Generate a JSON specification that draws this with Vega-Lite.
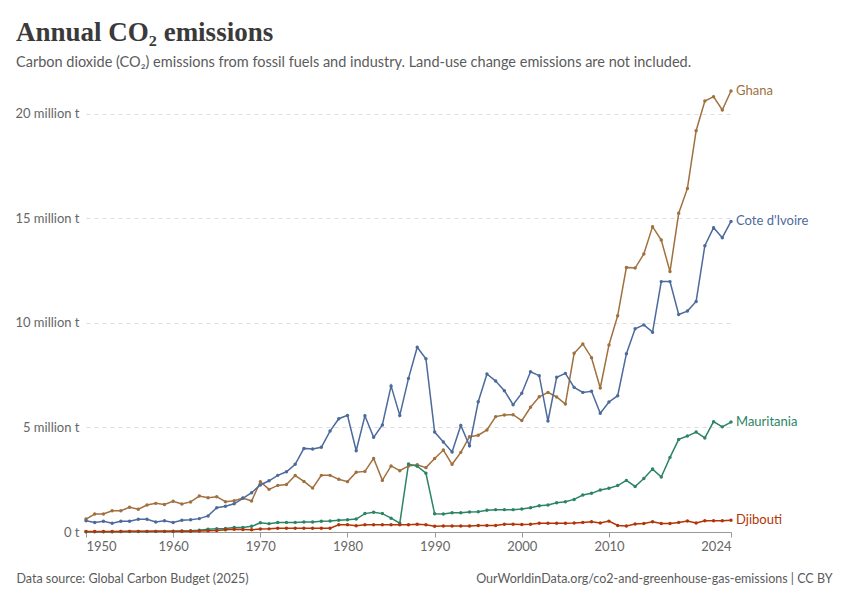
{
  "$schema": "https://vega.github.io/schema/vega-lite/v6.json",
  "autosize": "none",
  "width": 645,
  "height": 441,
  "padding": {"left": 86, "top": 91, "right": 119, "bottom": 68},
  "background": "white",
  "title": {
    "text": "Annual CO₂ emissions",
    "subtitle": "Carbon dioxide (CO₂) emissions from fossil fuels and industry. Land-use change emissions are not included.",
    "anchor": "start",
    "frame": "group",
    "dx": -70,
    "offset": 15,
    "font": "Liberation Serif",
    "fontSize": 27,
    "fontWeight": "bold",
    "color": "#3a3a3a",
    "subtitleFont": "Lato",
    "subtitleFontSize": 14.5,
    "subtitleColor": "#5b5b5b",
    "subtitlePadding": 9
  },
  "data": {
    "values": [
      {"country": "Ghana", "year": 1950, "value": 0.62}, {"country": "Ghana", "year": 1951, "value": 0.86}, {"country": "Ghana", "year": 1952, "value": 0.86}, {"country": "Ghana", "year": 1953, "value": 1.02}, {"country": "Ghana", "year": 1954, "value": 1.02},
      {"country": "Ghana", "year": 1955, "value": 1.18}, {"country": "Ghana", "year": 1956, "value": 1.09}, {"country": "Ghana", "year": 1957, "value": 1.29}, {"country": "Ghana", "year": 1958, "value": 1.37}, {"country": "Ghana", "year": 1959, "value": 1.32},
      {"country": "Ghana", "year": 1960, "value": 1.47}, {"country": "Ghana", "year": 1961, "value": 1.34}, {"country": "Ghana", "year": 1962, "value": 1.44}, {"country": "Ghana", "year": 1963, "value": 1.72}, {"country": "Ghana", "year": 1964, "value": 1.64},
      {"country": "Ghana", "year": 1965, "value": 1.69}, {"country": "Ghana", "year": 1966, "value": 1.45}, {"country": "Ghana", "year": 1967, "value": 1.50}, {"country": "Ghana", "year": 1968, "value": 1.63}, {"country": "Ghana", "year": 1969, "value": 1.48},
      {"country": "Ghana", "year": 1970, "value": 2.41}, {"country": "Ghana", "year": 1971, "value": 2.04}, {"country": "Ghana", "year": 1972, "value": 2.23}, {"country": "Ghana", "year": 1973, "value": 2.27}, {"country": "Ghana", "year": 1974, "value": 2.70},
      {"country": "Ghana", "year": 1975, "value": 2.42}, {"country": "Ghana", "year": 1976, "value": 2.10}, {"country": "Ghana", "year": 1977, "value": 2.71}, {"country": "Ghana", "year": 1978, "value": 2.71}, {"country": "Ghana", "year": 1979, "value": 2.52},
      {"country": "Ghana", "year": 1980, "value": 2.41}, {"country": "Ghana", "year": 1981, "value": 2.86}, {"country": "Ghana", "year": 1982, "value": 2.90}, {"country": "Ghana", "year": 1983, "value": 3.52}, {"country": "Ghana", "year": 1984, "value": 2.47},
      {"country": "Ghana", "year": 1985, "value": 3.16}, {"country": "Ghana", "year": 1986, "value": 2.93}, {"country": "Ghana", "year": 1987, "value": 3.16}, {"country": "Ghana", "year": 1988, "value": 3.22}, {"country": "Ghana", "year": 1989, "value": 3.08},
      {"country": "Ghana", "year": 1990, "value": 3.52}, {"country": "Ghana", "year": 1991, "value": 3.92}, {"country": "Ghana", "year": 1992, "value": 3.24}, {"country": "Ghana", "year": 1993, "value": 3.81}, {"country": "Ghana", "year": 1994, "value": 4.56},
      {"country": "Ghana", "year": 1995, "value": 4.63}, {"country": "Ghana", "year": 1996, "value": 4.88}, {"country": "Ghana", "year": 1997, "value": 5.52}, {"country": "Ghana", "year": 1998, "value": 5.60}, {"country": "Ghana", "year": 1999, "value": 5.61},
      {"country": "Ghana", "year": 2000, "value": 5.33}, {"country": "Ghana", "year": 2001, "value": 5.97}, {"country": "Ghana", "year": 2002, "value": 6.47}, {"country": "Ghana", "year": 2003, "value": 6.68}, {"country": "Ghana", "year": 2004, "value": 6.46},
      {"country": "Ghana", "year": 2005, "value": 6.12}, {"country": "Ghana", "year": 2006, "value": 8.55}, {"country": "Ghana", "year": 2007, "value": 9.00}, {"country": "Ghana", "year": 2008, "value": 8.34}, {"country": "Ghana", "year": 2009, "value": 6.89},
      {"country": "Ghana", "year": 2010, "value": 8.95}, {"country": "Ghana", "year": 2011, "value": 10.35}, {"country": "Ghana", "year": 2012, "value": 12.66}, {"country": "Ghana", "year": 2013, "value": 12.63}, {"country": "Ghana", "year": 2014, "value": 13.30},
      {"country": "Ghana", "year": 2015, "value": 14.61}, {"country": "Ghana", "year": 2016, "value": 13.97}, {"country": "Ghana", "year": 2017, "value": 12.46}, {"country": "Ghana", "year": 2018, "value": 15.25}, {"country": "Ghana", "year": 2019, "value": 16.44},
      {"country": "Ghana", "year": 2020, "value": 19.20}, {"country": "Ghana", "year": 2021, "value": 20.62}, {"country": "Ghana", "year": 2022, "value": 20.83}, {"country": "Ghana", "year": 2023, "value": 20.19}, {"country": "Ghana", "year": 2024, "value": 21.10},

      {"country": "Cote d'Ivoire", "year": 1950, "value": 0.54}, {"country": "Cote d'Ivoire", "year": 1951, "value": 0.45}, {"country": "Cote d'Ivoire", "year": 1952, "value": 0.51}, {"country": "Cote d'Ivoire", "year": 1953, "value": 0.42}, {"country": "Cote d'Ivoire", "year": 1954, "value": 0.51},
      {"country": "Cote d'Ivoire", "year": 1955, "value": 0.51}, {"country": "Cote d'Ivoire", "year": 1956, "value": 0.61}, {"country": "Cote d'Ivoire", "year": 1957, "value": 0.61}, {"country": "Cote d'Ivoire", "year": 1958, "value": 0.48}, {"country": "Cote d'Ivoire", "year": 1959, "value": 0.54},
      {"country": "Cote d'Ivoire", "year": 1960, "value": 0.45}, {"country": "Cote d'Ivoire", "year": 1961, "value": 0.56}, {"country": "Cote d'Ivoire", "year": 1962, "value": 0.59}, {"country": "Cote d'Ivoire", "year": 1963, "value": 0.64}, {"country": "Cote d'Ivoire", "year": 1964, "value": 0.77},
      {"country": "Cote d'Ivoire", "year": 1965, "value": 1.16}, {"country": "Cote d'Ivoire", "year": 1966, "value": 1.23}, {"country": "Cote d'Ivoire", "year": 1967, "value": 1.35}, {"country": "Cote d'Ivoire", "year": 1968, "value": 1.61}, {"country": "Cote d'Ivoire", "year": 1969, "value": 1.88},
      {"country": "Cote d'Ivoire", "year": 1970, "value": 2.25}, {"country": "Cote d'Ivoire", "year": 1971, "value": 2.45}, {"country": "Cote d'Ivoire", "year": 1972, "value": 2.71}, {"country": "Cote d'Ivoire", "year": 1973, "value": 2.88}, {"country": "Cote d'Ivoire", "year": 1974, "value": 3.24},
      {"country": "Cote d'Ivoire", "year": 1975, "value": 4.00}, {"country": "Cote d'Ivoire", "year": 1976, "value": 3.97}, {"country": "Cote d'Ivoire", "year": 1977, "value": 4.05}, {"country": "Cote d'Ivoire", "year": 1978, "value": 4.83}, {"country": "Cote d'Ivoire", "year": 1979, "value": 5.42},
      {"country": "Cote d'Ivoire", "year": 1980, "value": 5.58}, {"country": "Cote d'Ivoire", "year": 1981, "value": 3.89}, {"country": "Cote d'Ivoire", "year": 1982, "value": 5.56}, {"country": "Cote d'Ivoire", "year": 1983, "value": 4.53}, {"country": "Cote d'Ivoire", "year": 1984, "value": 5.12},
      {"country": "Cote d'Ivoire", "year": 1985, "value": 6.99}, {"country": "Cote d'Ivoire", "year": 1986, "value": 5.58}, {"country": "Cote d'Ivoire", "year": 1987, "value": 7.35}, {"country": "Cote d'Ivoire", "year": 1988, "value": 8.84}, {"country": "Cote d'Ivoire", "year": 1989, "value": 8.29},
      {"country": "Cote d'Ivoire", "year": 1990, "value": 4.78}, {"country": "Cote d'Ivoire", "year": 1991, "value": 4.31}, {"country": "Cote d'Ivoire", "year": 1992, "value": 3.83}, {"country": "Cote d'Ivoire", "year": 1993, "value": 5.10}, {"country": "Cote d'Ivoire", "year": 1994, "value": 4.13},
      {"country": "Cote d'Ivoire", "year": 1995, "value": 6.23}, {"country": "Cote d'Ivoire", "year": 1996, "value": 7.56}, {"country": "Cote d'Ivoire", "year": 1997, "value": 7.22}, {"country": "Cote d'Ivoire", "year": 1998, "value": 6.76}, {"country": "Cote d'Ivoire", "year": 1999, "value": 6.09},
      {"country": "Cote d'Ivoire", "year": 2000, "value": 6.64}, {"country": "Cote d'Ivoire", "year": 2001, "value": 7.67}, {"country": "Cote d'Ivoire", "year": 2002, "value": 7.48}, {"country": "Cote d'Ivoire", "year": 2003, "value": 5.31}, {"country": "Cote d'Ivoire", "year": 2004, "value": 7.40},
      {"country": "Cote d'Ivoire", "year": 2005, "value": 7.59}, {"country": "Cote d'Ivoire", "year": 2006, "value": 6.92}, {"country": "Cote d'Ivoire", "year": 2007, "value": 6.68}, {"country": "Cote d'Ivoire", "year": 2008, "value": 6.73}, {"country": "Cote d'Ivoire", "year": 2009, "value": 5.68},
      {"country": "Cote d'Ivoire", "year": 2010, "value": 6.22}, {"country": "Cote d'Ivoire", "year": 2011, "value": 6.52}, {"country": "Cote d'Ivoire", "year": 2012, "value": 8.53}, {"country": "Cote d'Ivoire", "year": 2013, "value": 9.72}, {"country": "Cote d'Ivoire", "year": 2014, "value": 9.91},
      {"country": "Cote d'Ivoire", "year": 2015, "value": 9.56}, {"country": "Cote d'Ivoire", "year": 2016, "value": 11.98}, {"country": "Cote d'Ivoire", "year": 2017, "value": 11.98}, {"country": "Cote d'Ivoire", "year": 2018, "value": 10.41}, {"country": "Cote d'Ivoire", "year": 2019, "value": 10.57},
      {"country": "Cote d'Ivoire", "year": 2020, "value": 11.03}, {"country": "Cote d'Ivoire", "year": 2021, "value": 13.70}, {"country": "Cote d'Ivoire", "year": 2022, "value": 14.56}, {"country": "Cote d'Ivoire", "year": 2023, "value": 14.08}, {"country": "Cote d'Ivoire", "year": 2024, "value": 14.86},

      {"country": "Mauritania", "year": 1950, "value": 0.01}, {"country": "Mauritania", "year": 1951, "value": 0.01}, {"country": "Mauritania", "year": 1952, "value": 0.01}, {"country": "Mauritania", "year": 1953, "value": 0.01}, {"country": "Mauritania", "year": 1954, "value": 0.02},
      {"country": "Mauritania", "year": 1955, "value": 0.02}, {"country": "Mauritania", "year": 1956, "value": 0.02}, {"country": "Mauritania", "year": 1957, "value": 0.02}, {"country": "Mauritania", "year": 1958, "value": 0.03}, {"country": "Mauritania", "year": 1959, "value": 0.03},
      {"country": "Mauritania", "year": 1960, "value": 0.04}, {"country": "Mauritania", "year": 1961, "value": 0.05}, {"country": "Mauritania", "year": 1962, "value": 0.06}, {"country": "Mauritania", "year": 1963, "value": 0.08}, {"country": "Mauritania", "year": 1964, "value": 0.13},
      {"country": "Mauritania", "year": 1965, "value": 0.16}, {"country": "Mauritania", "year": 1966, "value": 0.17}, {"country": "Mauritania", "year": 1967, "value": 0.22}, {"country": "Mauritania", "year": 1968, "value": 0.22}, {"country": "Mauritania", "year": 1969, "value": 0.27},
      {"country": "Mauritania", "year": 1970, "value": 0.44}, {"country": "Mauritania", "year": 1971, "value": 0.40}, {"country": "Mauritania", "year": 1972, "value": 0.45}, {"country": "Mauritania", "year": 1973, "value": 0.46}, {"country": "Mauritania", "year": 1974, "value": 0.46},
      {"country": "Mauritania", "year": 1975, "value": 0.48}, {"country": "Mauritania", "year": 1976, "value": 0.48}, {"country": "Mauritania", "year": 1977, "value": 0.51}, {"country": "Mauritania", "year": 1978, "value": 0.53}, {"country": "Mauritania", "year": 1979, "value": 0.56},
      {"country": "Mauritania", "year": 1980, "value": 0.59}, {"country": "Mauritania", "year": 1981, "value": 0.62}, {"country": "Mauritania", "year": 1982, "value": 0.88}, {"country": "Mauritania", "year": 1983, "value": 0.94}, {"country": "Mauritania", "year": 1984, "value": 0.88},
      {"country": "Mauritania", "year": 1985, "value": 0.66}, {"country": "Mauritania", "year": 1986, "value": 0.42}, {"country": "Mauritania", "year": 1987, "value": 3.25}, {"country": "Mauritania", "year": 1988, "value": 3.15}, {"country": "Mauritania", "year": 1989, "value": 2.81},
      {"country": "Mauritania", "year": 1990, "value": 0.87}, {"country": "Mauritania", "year": 1991, "value": 0.86}, {"country": "Mauritania", "year": 1992, "value": 0.92}, {"country": "Mauritania", "year": 1993, "value": 0.92}, {"country": "Mauritania", "year": 1994, "value": 0.96},
      {"country": "Mauritania", "year": 1995, "value": 0.97}, {"country": "Mauritania", "year": 1996, "value": 1.04}, {"country": "Mauritania", "year": 1997, "value": 1.07}, {"country": "Mauritania", "year": 1998, "value": 1.07}, {"country": "Mauritania", "year": 1999, "value": 1.07},
      {"country": "Mauritania", "year": 2000, "value": 1.10}, {"country": "Mauritania", "year": 2001, "value": 1.16}, {"country": "Mauritania", "year": 2002, "value": 1.26}, {"country": "Mauritania", "year": 2003, "value": 1.29}, {"country": "Mauritania", "year": 2004, "value": 1.40},
      {"country": "Mauritania", "year": 2005, "value": 1.45}, {"country": "Mauritania", "year": 2006, "value": 1.56}, {"country": "Mauritania", "year": 2007, "value": 1.77}, {"country": "Mauritania", "year": 2008, "value": 1.85}, {"country": "Mauritania", "year": 2009, "value": 2.01},
      {"country": "Mauritania", "year": 2010, "value": 2.09}, {"country": "Mauritania", "year": 2011, "value": 2.22}, {"country": "Mauritania", "year": 2012, "value": 2.47}, {"country": "Mauritania", "year": 2013, "value": 2.18}, {"country": "Mauritania", "year": 2014, "value": 2.56},
      {"country": "Mauritania", "year": 2015, "value": 3.01}, {"country": "Mauritania", "year": 2016, "value": 2.63}, {"country": "Mauritania", "year": 2017, "value": 3.57}, {"country": "Mauritania", "year": 2018, "value": 4.43}, {"country": "Mauritania", "year": 2019, "value": 4.59},
      {"country": "Mauritania", "year": 2020, "value": 4.78}, {"country": "Mauritania", "year": 2021, "value": 4.50}, {"country": "Mauritania", "year": 2022, "value": 5.28}, {"country": "Mauritania", "year": 2023, "value": 5.03}, {"country": "Mauritania", "year": 2024, "value": 5.26},

      {"country": "Djibouti", "year": 1950, "value": 0.02}, {"country": "Djibouti", "year": 1951, "value": 0.02}, {"country": "Djibouti", "year": 1952, "value": 0.02}, {"country": "Djibouti", "year": 1953, "value": 0.02}, {"country": "Djibouti", "year": 1954, "value": 0.02},
      {"country": "Djibouti", "year": 1955, "value": 0.03}, {"country": "Djibouti", "year": 1956, "value": 0.03}, {"country": "Djibouti", "year": 1957, "value": 0.03}, {"country": "Djibouti", "year": 1958, "value": 0.03}, {"country": "Djibouti", "year": 1959, "value": 0.03},
      {"country": "Djibouti", "year": 1960, "value": 0.03}, {"country": "Djibouti", "year": 1961, "value": 0.04}, {"country": "Djibouti", "year": 1962, "value": 0.04}, {"country": "Djibouti", "year": 1963, "value": 0.05}, {"country": "Djibouti", "year": 1964, "value": 0.06},
      {"country": "Djibouti", "year": 1965, "value": 0.07}, {"country": "Djibouti", "year": 1966, "value": 0.11}, {"country": "Djibouti", "year": 1967, "value": 0.13}, {"country": "Djibouti", "year": 1968, "value": 0.12}, {"country": "Djibouti", "year": 1969, "value": 0.11},
      {"country": "Djibouti", "year": 1970, "value": 0.14}, {"country": "Djibouti", "year": 1971, "value": 0.15}, {"country": "Djibouti", "year": 1972, "value": 0.18}, {"country": "Djibouti", "year": 1973, "value": 0.18}, {"country": "Djibouti", "year": 1974, "value": 0.18},
      {"country": "Djibouti", "year": 1975, "value": 0.18}, {"country": "Djibouti", "year": 1976, "value": 0.18}, {"country": "Djibouti", "year": 1977, "value": 0.18}, {"country": "Djibouti", "year": 1978, "value": 0.18}, {"country": "Djibouti", "year": 1979, "value": 0.35},
      {"country": "Djibouti", "year": 1980, "value": 0.35}, {"country": "Djibouti", "year": 1981, "value": 0.30}, {"country": "Djibouti", "year": 1982, "value": 0.35}, {"country": "Djibouti", "year": 1983, "value": 0.35}, {"country": "Djibouti", "year": 1984, "value": 0.35},
      {"country": "Djibouti", "year": 1985, "value": 0.35}, {"country": "Djibouti", "year": 1986, "value": 0.35}, {"country": "Djibouti", "year": 1987, "value": 0.35}, {"country": "Djibouti", "year": 1988, "value": 0.37}, {"country": "Djibouti", "year": 1989, "value": 0.35},
      {"country": "Djibouti", "year": 1990, "value": 0.28}, {"country": "Djibouti", "year": 1991, "value": 0.29}, {"country": "Djibouti", "year": 1992, "value": 0.29}, {"country": "Djibouti", "year": 1993, "value": 0.29}, {"country": "Djibouti", "year": 1994, "value": 0.29},
      {"country": "Djibouti", "year": 1995, "value": 0.31}, {"country": "Djibouti", "year": 1996, "value": 0.31}, {"country": "Djibouti", "year": 1997, "value": 0.31}, {"country": "Djibouti", "year": 1998, "value": 0.37}, {"country": "Djibouti", "year": 1999, "value": 0.37},
      {"country": "Djibouti", "year": 2000, "value": 0.36}, {"country": "Djibouti", "year": 2001, "value": 0.37}, {"country": "Djibouti", "year": 2002, "value": 0.42}, {"country": "Djibouti", "year": 2003, "value": 0.42}, {"country": "Djibouti", "year": 2004, "value": 0.42},
      {"country": "Djibouti", "year": 2005, "value": 0.42}, {"country": "Djibouti", "year": 2006, "value": 0.43}, {"country": "Djibouti", "year": 2007, "value": 0.46}, {"country": "Djibouti", "year": 2008, "value": 0.49}, {"country": "Djibouti", "year": 2009, "value": 0.43},
      {"country": "Djibouti", "year": 2010, "value": 0.52}, {"country": "Djibouti", "year": 2011, "value": 0.31}, {"country": "Djibouti", "year": 2012, "value": 0.29}, {"country": "Djibouti", "year": 2013, "value": 0.38}, {"country": "Djibouti", "year": 2014, "value": 0.41},
      {"country": "Djibouti", "year": 2015, "value": 0.49}, {"country": "Djibouti", "year": 2016, "value": 0.41}, {"country": "Djibouti", "year": 2017, "value": 0.41}, {"country": "Djibouti", "year": 2018, "value": 0.46}, {"country": "Djibouti", "year": 2019, "value": 0.53},
      {"country": "Djibouti", "year": 2020, "value": 0.43}, {"country": "Djibouti", "year": 2021, "value": 0.54}, {"country": "Djibouti", "year": 2022, "value": 0.54}, {"country": "Djibouti", "year": 2023, "value": 0.54}, {"country": "Djibouti", "year": 2024, "value": 0.56}
    ]
  },
  "resolve": {"axis": {"x": "independent"}},
  "encoding": {
    "y": {
      "field": "value",
      "type": "quantitative",
      "scale": {"domain": [0, 21.1], "nice": false},
      "axis": {
        "values": [0, 5, 10, 15, 20],
        "labelExpr": "datum.value == 0 ? '0 t' : datum.value + ' million t'",
        "title": null,
        "domain": false,
        "ticks": false,
        "grid": true,
        "gridDash": [4, 4],
        "gridColor": "#dddddd",
        "labelPadding": 7,
        "labelFont": "Lato",
        "labelFontSize": 13,
        "labelColor": "#666666"
      }
    },
    "color": {
      "field": "country",
      "type": "nominal",
      "scale": {
        "domain": ["Ghana", "Cote d'Ivoire", "Mauritania", "Djibouti"],
        "range": ["#a0703e", "#4c6a9c", "#2c8465", "#b13507"]
      },
      "legend": null
    }
  },
  "layer": [
    {
      "mark": {"type": "line", "strokeWidth": 1.5},
      "encoding": {
        "x": {
          "field": "year",
          "type": "quantitative",
          "scale": {"domain": [1950, 2024], "nice": false, "zero": false},
          "axis": {
            "orient": "bottom",
            "values": [1950, 1960, 1970, 1980, 1990, 2000, 2010, 2024],
            "format": "d",
            "grid": false,
            "labelFlush": true,
            "domainColor": "#999999",
            "tickColor": "#999999",
            "tickSize": 5,
            "labelPadding": 3,
            "labelFont": "Lato",
            "labelFontSize": 13,
            "labelColor": "#666666",
            "title": "Data source: Global Carbon Budget (2025)",
            "titleAnchor": null,
            "titleAlign": "left",
            "titleBaseline": "alphabetic",
            "titleX": -70,
            "titleY": 50,
            "titleFont": "Lato",
            "titleFontSize": 12.5,
            "titleFontWeight": "normal",
            "titleColor": "#5b5b5b"
          }
        }
      }
    },
    {
      "mark": {"type": "point", "filled": true, "size": 12, "opacity": 1},
      "encoding": {
        "x": {
          "field": "year",
          "type": "quantitative",
          "axis": {
            "orient": "bottom",
            "labels": false,
            "ticks": false,
            "domain": false,
            "grid": false,
            "title": "OurWorldinData.org/co2-and-greenhouse-gas-emissions | CC BY",
            "titleAnchor": null,
            "titleAlign": "right",
            "titleBaseline": "alphabetic",
            "titleX": 746,
            "titleY": 50,
            "titleFont": "Lato",
            "titleFontSize": 12.5,
            "titleFontWeight": "normal",
            "titleColor": "#5b5b5b"
          }
        }
      }
    },
    {
      "transform": [{"filter": "datum.year == 2024"}],
      "mark": {"type": "text", "align": "left", "baseline": "middle", "dx": 5, "font": "Lato", "fontSize": 13},
      "encoding": {
        "x": {"field": "year", "type": "quantitative", "axis": null},
        "text": {"field": "country"}
      }
    }
  ],
  "config": {
    "view": {"stroke": null}
  }
}
